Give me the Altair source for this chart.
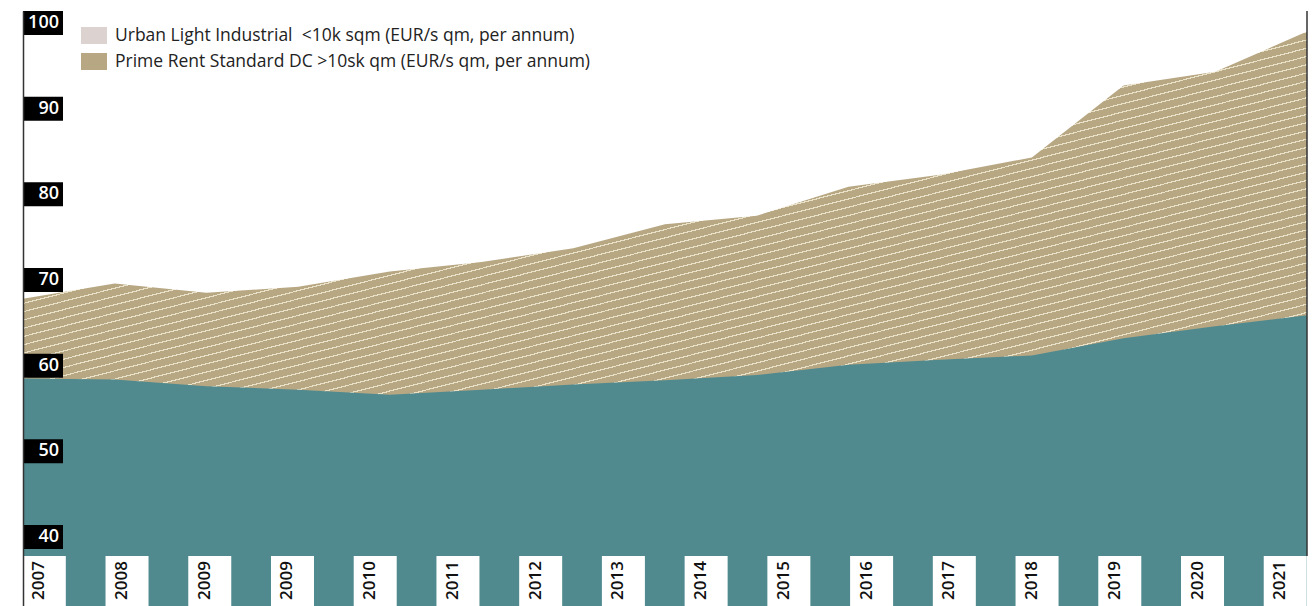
import math
import altair as alt
import pandas as pd

# ---------------- data ----------------
point_idx = list(range(15))
prime_top = [67.8, 69.6, 68.5, 69.2, 71.0, 72.1, 73.7, 76.5, 77.5, 80.9, 82.3, 84.3, 92.7, 94.3, 99.0]
urban_top = [58.5, 58.4, 57.6, 57.2, 56.6, 57.2, 57.8, 58.3, 58.9, 60.1, 60.7, 61.2, 63.2, 64.6, 65.9]
x_labels = ["2007", "2008", "2009", "2009", "2010", "2011", "2012", "2013", "2014",
            "2015", "2016", "2017", "2018", "2019", "2020", "2021"]
y_ticks = [40, 50, 60, 70, 80, 90, 100]
legend_labels = ["Urban Light Industrial\u00a0 <10k sqm (EUR/s qm, per annum)",
                 "Prime Rent Standard DC >10sk qm (EUR/s qm, per annum)"]
legend_colors = ["#DCD3D0", "#B8A783"]

# ---------------- style ----------------
TEAL = "#508A8F"
TAN = "#B8A783"
HATCH = "#E9E0C8"
FONT = "Open Sans"
W, H = 1284, 595
Y_MIN, Y_MAX = 31.95, 101.40

df = pd.DataFrame({"i": point_idx, "prime": prime_top, "urban": urban_top})
lab_df = pd.DataFrame({"li": list(range(len(x_labels))), "lab": x_labels})
tick_df = pd.DataFrame({"v": y_ticks, "t": [str(v) for v in y_ticks]})
leg_df = pd.DataFrame({"k": [0, 1], "lab": legend_labels, "col": legend_colors})

ysc = alt.Scale(domain=[Y_MIN, Y_MAX], nice=False, zero=False)
xsc = alt.Scale(domain=[0, 14], nice=False, zero=False)
lsc = alt.Scale(domain=[-0.2575, 15.263], nice=False, zero=False)
legsc = alt.Scale(domain=[0, 1], range=[24.5, 50.5], nice=False, zero=False)

# hatch pattern as a striped linear gradient (object bounding box units)
bw = W
bh = H - (Y_MAX - max(prime_top)) / (Y_MAX - Y_MIN) * H
theta = math.radians(14.4)
s, c = math.sin(theta), math.cos(theta)
pmax = bw * s + bh * c
k = pmax / (bw * bw * s * s + bh * bh * c * c)
gx2, gy2 = k * bw * s, k * bh * c
period, lw = 8.0, 1.2
stops = []
j = 0
while j * period < pmax:
    a = j * period / pmax
    b = min(1.0, (j * period + period - lw) / pmax)
    e = min(1.0, (j + 1) * period / pmax)
    stops += [{"offset": a, "color": TAN}, {"offset": b, "color": TAN},
              {"offset": b, "color": HATCH}, {"offset": e, "color": HATCH}]
    j += 1
hatch_fill = {"gradient": "linear", "x1": 0, "y1": 0, "x2": gx2, "y2": gy2, "stops": stops}

base = alt.Chart(df)

tan_area = base.mark_area(color=hatch_fill).encode(
    x=alt.X("i:Q", scale=xsc, axis=None),
    y=alt.Y("prime:Q", scale=ysc,
            axis=alt.Axis(domain=True, labels=False, ticks=False, grid=False,
                          domainColor="#333333", domainWidth=1.5, title=None, zindex=1)),
    y2=alt.datum(Y_MIN),
)

teal_area = base.mark_area(color=TEAL).encode(
    x=alt.X("i:Q", scale=xsc, axis=None),
    y=alt.Y("urban:Q", scale=ysc, axis=None),
    y2=alt.datum(Y_MIN),
)

# x labels: white boxes + rotated text
xbox = alt.Chart(lab_df).mark_point(
    shape="M-0.7167,-1H0.7167V1H-0.7167Z", size=3600, filled=True, opacity=1,
    color="white", strokeWidth=0,
).encode(x=alt.X("li:Q", scale=lsc, axis=None), y=alt.value(575))

xtext = alt.Chart(lab_df).mark_text(
    angle=270, align="left", baseline="alphabetic", font=FONT, fontSize=17,
    fontWeight=600, color="#111111",
).encode(x=alt.X("li:Q", scale=lsc, axis=None), y=alt.value(589), text="lab:N")

# y labels: black boxes + white text
ybox = alt.Chart(tick_df).mark_point(
    shape="M-1,-0.6H1V0.6H-1Z", size=1600, filled=True, opacity=1, color="black", strokeWidth=0,
).encode(x=alt.value(20), y=alt.Y("v:Q", scale=ysc, axis=None))

ytext = alt.Chart(tick_df).mark_text(
    align="right", baseline="alphabetic", dy=5, font=FONT, fontSize=18, fontWeight=600,
    color="white",
).encode(x=alt.value(36), y=alt.Y("v:Q", scale=ysc, axis=None), text="t:N")

# legend
leg_sw = alt.Chart(leg_df).mark_point(
    shape="M-1,-0.654H1V0.654H-1Z", size=676, filled=True, opacity=1, strokeWidth=0,
).encode(
    x=alt.value(71),
    y=alt.Y("k:Q", scale=legsc, axis=None),
    color=alt.Color("col:N", scale=None, legend=None),
)
leg_tx = alt.Chart(leg_df).mark_text(
    align="left", baseline="middle", font=FONT, fontSize=17.5, color="#222222",
).encode(x=alt.value(92), y=alt.Y("k:Q", scale=legsc, axis=None), text="lab:N")

right_line = alt.Chart(pd.DataFrame({"a": [0]})).mark_rule(color="#333333", strokeWidth=1.5).encode(
    x=alt.value(W), y=alt.value(0), y2=alt.value(545)
)

chart = alt.layer(
    tan_area, teal_area, right_line, xbox, xtext, ybox, ytext, leg_sw, leg_tx
).resolve_scale(x="independent", y="independent").properties(
    width=W, height=H,
    autosize=alt.AutoSizeParams(type="none"),
    padding={"left": 23, "top": 11, "right": 9, "bottom": 0},
    background="white",
).configure_view(stroke=None)

chart.save("out.html", embed_options={"renderer": "svg", "actions": False})
